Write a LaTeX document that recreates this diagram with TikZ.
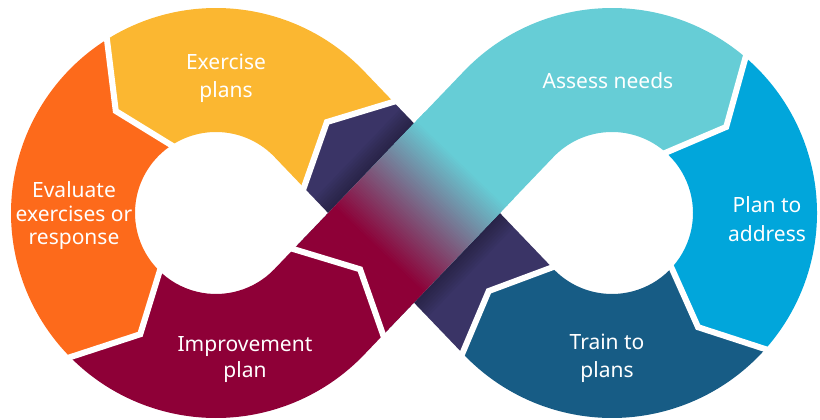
\documentclass[tikz,border=0pt]{standalone}
\usepackage{fontspec}
\setmainfont{Noto Sans}
\usetikzlibrary{calc}
\definecolor{cyellow}{HTML}{FBB731}
\definecolor{corange}{HTML}{FD6A1B}
\definecolor{ccrimson}{HTML}{8E0037}
\definecolor{cnavy}{HTML}{3A3466}
\definecolor{cteal}{HTML}{66CDD6}
\definecolor{cblue}{HTML}{01A6DB}
\definecolor{cdblue}{HTML}{175C85}
\begin{document}
\begin{tikzpicture}[x=1pt,y=1pt,
  lbl/.style={text=white, align=center, inner sep=0pt},
  gapline/.style={draw=white, line width=6pt, line join=miter, miter limit=10}]
\useasboundingbox (0,0) rectangle (820,420);
\def\ro{205}\def\ri{81}\def\rmid{143}\def\bt{43.762}\def\al{46.238}\def\T{273.9}
\def\roo{210}\def\rii{76}
\coordinate (L) at (216,207);
\coordinate (R) at (612,207);
% paths
\def\navypath{($(L)+(\bt:\rmid)+(-\al:11)$) -- ($(L)+(\bt:\ro)+(-\al:45)$) -- ($(L)+(\bt:\ro)+(-\al:\T)$) -- ($(L)+(\bt:\rmid)+(-\al:245)$) -- ($(L)+(\bt:\ri)+(-\al:\T)$) -- ($(L)+(\bt:\ri)+(-\al:45)$) -- cycle}
\def\tealpath{($(L)+(-\bt:\ri)+(\al:25)$) -- ($(L)+(-\bt:\rmid)+(\al:59)$) -- ($(L)+(-\bt:\ro)+(\al:25)$) -- ($(R)+(136.238:\ri)$) arc[start angle=136.238, end angle=50, radius=\ro-124] -- ($(R)+(37:\rmid)$) -- ($(R)+(50:\ro)$) arc[start angle=50, end angle=136.238, radius=\ro] -- cycle}
% yellow
\fill[cyellow] ($(L)+(\bt:\ro)+(-\al:45)$) -- ($(L)+(\bt:\ro)$) arc[start angle=\bt, end angle=121.5, radius=\ro] -- ($(L)+(134.5:\rmid)$) -- ($(L)+(121.5:\ri)$) arc[start angle=121.5, end angle=\bt, radius=\ri] -- ($(L)+(\bt:\ri)+(-\al:45)$) -- ($(L)+(\bt:\rmid)+(-\al:11)$) -- cycle;
% orange
\fill[corange] ($(L)+(121.5:\ro)$) arc[start angle=121.5, end angle=224, radius=\ro] -- ($(L)+(238:\rmid)$) -- ($(L)+(224:\ri)$) arc[start angle=224, end angle=121.5, radius=\ri] -- ($(L)+(134.5:\rmid)$) -- cycle;
% crimson (improvement)
\fill[ccrimson] ($(L)+(224:\ro)$) arc[start angle=224, end angle=316.238, radius=\ro] -- ($(L)+(-\bt:\ro)+(\al:25)$) -- ($(L)+(-\bt:\rmid)+(\al:59)$) -- ($(L)+(-\bt:\ri)+(\al:25)$) -- ($(L)+(-\bt:\ri)$) arc[start angle=316.238, end angle=224, radius=\ri] -- ($(L)+(238:\rmid)$) -- cycle;
% blue (plan to address)
\fill[cblue] ($(R)+(50:\ro)$) arc[start angle=50, end angle=-41, radius=\ro] -- ($(R)+(-53:\rmid)$) -- ($(R)+(-41:\ri)$) arc[start angle=-41, end angle=50, radius=\ri] -- ($(R)+(37:\rmid)$) -- cycle;
% dark blue (train)
\fill[cdblue] ($(R)+(-41:\ro)$) -- ($(R)+(-53:\rmid)$) -- ($(R)+(-41:\ri)$) arc[start angle=-41, end angle=-136.238, radius=\ri] -- ($(L)+(\bt:\rmid)+(-\al:245)$) -- ($(R)+(-136.238:\ro)$) arc[start angle=-136.238, end angle=-41, radius=\ro] -- cycle;
% navy band
\fill[cnavy] \navypath;
\begin{scope}
  \clip \navypath;
  \foreach \j in {1,...,8} {
    \pgfmathsetmacro{\sa}{\rmid+62+2.5*\j}
    \pgfmathsetmacro{\sb}{\rmid-62-2.5*\j}
    \fill[black, opacity=0.035] ($(L)+(-\bt:\sa)$) -- ($(L)+(-\bt:\sa)+(\al:\T)$) -- ($(L)+(-\bt:\sb)+(\al:\T)$) -- ($(L)+(-\bt:\sb)$) -- cycle;
  }
\end{scope}
% teal band with gradient
\fill[cteal] \tealpath;
\begin{scope}
  \clip \tealpath;
  \foreach \k in {0,...,95} {
    \pgfmathsetmacro{\ta}{25+2*\k}
    \pgfmathsetmacro{\tb}{\ta+2.6}
    \pgfmathsetmacro{\pc}{max(0,min(100,(\ta-85)/120*100))}
    \fill[cteal!\pc!ccrimson] ($(L)+(-\bt:\rmid)+(-\bt:75)+(\al:\ta)$) -- ($(L)+(-\bt:\rmid)+(136.238:75)+(\al:\ta)$) -- ($(L)+(-\bt:\rmid)+(136.238:75)+(\al:\tb)$) -- ($(L)+(-\bt:\rmid)+(-\bt:75)+(\al:\tb)$) -- cycle;
  }
\end{scope}
% white gaps
\draw[gapline] ($(L)+(\bt:\roo)+(-\al:45)$) -- ($(L)+(\bt:\rmid)+(-\al:11)$) -- ($(L)+(\bt:\rii)+(-\al:45)$);
\draw[gapline] ($(L)+(121.5:\roo)$) -- ($(L)+(134.5:\rmid)$) -- ($(L)+(121.5:\rii)$);
\draw[gapline] ($(L)+(224:\roo)$) -- ($(L)+(238:\rmid)$) -- ($(L)+(224:\rii)$);
\draw[gapline] ($(L)+(-\bt:\roo)+(\al:25)$) -- ($(L)+(-\bt:\rmid)+(\al:59)$) -- ($(L)+(-\bt:\rii)+(\al:25)$);
\draw[gapline] ($(R)+(50:\roo)$) -- ($(R)+(37:\rmid)$) -- ($(R)+(50:\rii)$);
\draw[gapline] ($(R)+(-41:\roo)$) -- ($(R)+(-53:\rmid)$) -- ($(R)+(-41:\rii)$);
\draw[gapline] ($(R)+(-136.238:\roo)$) -- ($(L)+(\bt:\rmid)+(-\al:245)$) -- ($(R)+(-136.238:\rii)$);
% labels
\node[lbl, font=\fontsize{21}{28}\selectfont] (ex) at (226,342) {Exercise\\plans};
\node[lbl, font=\fontsize{21}{23.5}\selectfont] (ev) at (74,204) {Evaluate\\exercises or\\response};
\node[lbl, font=\fontsize{21}{26}\selectfont] (im) at (245,60) {Improvement\\plan};
\node[lbl, font=\fontsize{21}{26}\selectfont] (as) at (608,339) {Assess needs};
\node[lbl, font=\fontsize{21}{29}\selectfont] (pl) at (767,200.5) {Plan to\\address};
\node[lbl, font=\fontsize{21}{28}\selectfont] (tr) at (607,62) {Train to\\plans};
\end{tikzpicture}
\end{document}
